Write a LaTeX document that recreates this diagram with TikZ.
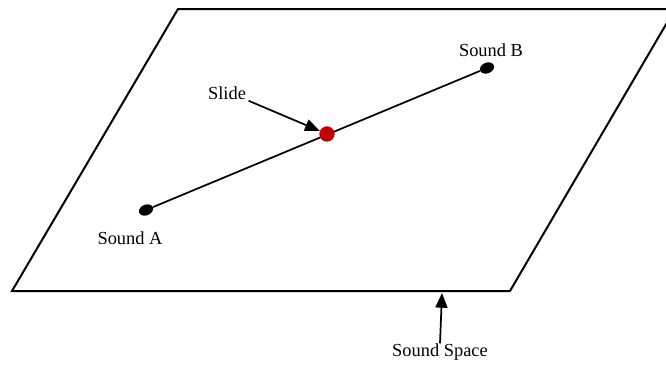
\documentclass[tikz,border=0pt]{standalone}
\usepackage{fontspec}
\setmainfont{Liberation Serif}
\usetikzlibrary{arrows.meta,shapes.geometric}
\definecolor{dotred}{RGB}{192,0,0}
\tikzset{
  plane/.style={line width=1.5pt,line join=miter},
  endpoint/.style={ellipse,fill=black,inner sep=0pt,minimum width=11pt,minimum height=8pt},
  slidept/.style={circle,fill=dotred,inner sep=0pt,minimum size=11.5pt},
  trackline/.style={line width=1.3pt},
  pointer/.style={-{Triangle[length=11pt,width=9pt]},line width=1.3pt},
  caption/.style={font=\fontsize{13.8}{16}\selectfont,inner sep=0pt},
}
\begin{document}
\begin{tikzpicture}[x=0.75pt,y=-0.75pt]
\useasboundingbox (0,0) rectangle (666,364);
\clip (0,0) rectangle (666,364);

% --- sound space ---
\draw[plane] (178,9) -- (675,9) -- (510,291) -- (12,291) -- cycle;

% --- sounds and the slide between them ---
\node[endpoint,rotate=22] (soundA) at (146,210) {};
\node[endpoint,rotate=22] (soundB) at (487,68) {};
\draw[trackline] (soundA) -- (soundB);
\node[slidept] (slide) at (327,134) {};

% Labels
\node[caption] (labB) at (491,50) {Sound B};
\node[caption] (labSlide) at (227,93) {Slide};
\node[caption] (labA) at (130,238) {Sound A};
\node[caption] (labSpace) at (440,352) {Sound Space};
\coordinate (edge) at (442,293);

% pointers
\draw[pointer,shorten <=2pt] (labSlide.south east) -- (slide);
\draw[pointer] (labSpace.north) -- (edge);
\end{tikzpicture}
\end{document}
